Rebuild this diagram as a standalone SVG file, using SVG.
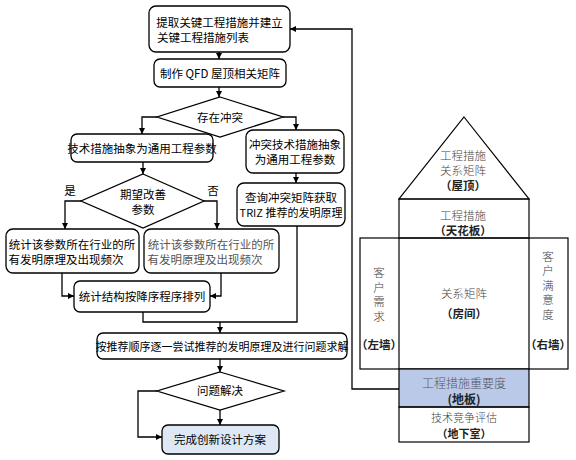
<svg xmlns="http://www.w3.org/2000/svg" width="576" height="460" viewBox="0 0 576 460">
<defs>
<marker id="ah" viewBox="0 0 10 10" refX="10" refY="5" markerWidth="6" markerHeight="6" markerUnits="userSpaceOnUse" orient="auto">
<path d="M0,0 L10,5 L0,10 z" fill="#000"/>
</marker>
</defs>
<style>
.box{fill:#fff;stroke:#000;stroke-width:1.3}
.dia{fill:#fff;stroke:#000;stroke-width:1.3}
.t{font-family:"Noto Sans CJK SC","Noto Sans",sans-serif;font-size:11.5px;fill:#000;text-anchor:middle;dominant-baseline:central}
.g{fill:#555}
.h{font-family:"Noto Sans CJK SC","Noto Sans",sans-serif;font-size:11.5px;fill:#444;text-anchor:middle;dominant-baseline:central;font-weight:300}
.hb{font-weight:600;fill:#222}
.v{writing-mode:vertical-rl;letter-spacing:3px}
.c{fill:none;stroke:#000;stroke-width:1.3}
.hl{fill:none;stroke:#000;stroke-width:1.2}
</style>
<rect width="576" height="460" fill="#fff"/>

<g id="connectors">
<path class="c" d="M219,52 V59" marker-end="url(#ah)"/>
<path class="c" d="M219,87 V97" marker-end="url(#ah)"/>
<path class="c" d="M157,117 H142 V134" marker-end="url(#ah)"/>
<path class="c" d="M283,117 H296 V130" marker-end="url(#ah)"/>
<path class="c" d="M143,162 V174" marker-end="url(#ah)"/>
<path class="c" d="M296,173 V183" marker-end="url(#ah)"/>
<path class="c" d="M81,201 H65 V229" marker-end="url(#ah)"/>
<path class="c" d="M204,201 H217 V229" marker-end="url(#ah)"/>
<path class="c" d="M62,273 V296 H74" marker-end="url(#ah)"/>
<path class="c" d="M221,273 V296 H210" marker-end="url(#ah)"/>
<path class="c" d="M297,226 V322 H143 V312"/>
<path class="c" d="M220,322 V333" marker-end="url(#ah)"/>
<path class="c" d="M220,359 V372" marker-end="url(#ah)"/>
<path class="c" d="M220,410 V425" marker-end="url(#ah)"/>
<path class="c" d="M157,391 H138 V437 H162" marker-end="url(#ah)"/>
<path class="c" d="M399,389 H352 V29 H290" marker-end="url(#ah)"/>
</g>

<g id="n1"><rect class="box" x="149" y="6" width="141" height="46" rx="7"/>
<text class="t" x="219.5" y="22">提取关键工程措施并建立</text><text class="t" x="203" y="37">关键工程措施列表</text></g>
<g id="n2"><rect class="box" x="154" y="59" width="132" height="28" rx="6"/>
<text class="t" x="220" y="73">制作 QFD 屋顶相关矩阵</text></g>
<g id="d1"><polygon class="dia" points="220,97 283,117 220,137 157,117"/>
<text class="t" x="220" y="117">存在冲突</text></g>
<g id="n3"><rect class="box" x="71" y="134" width="142" height="28" rx="6"/>
<text class="t" x="142" y="148">技术措施抽象为通用工程参数</text></g>
<g id="n4"><rect class="box" x="246" y="130" width="98" height="43" rx="7"/>
<text class="t" x="295" y="144">冲突技术措施抽象</text><text class="t" x="295" y="159">为通用工程参数</text></g>
<g id="d2"><polygon class="dia" points="143,174 204,201 143,228 81,201"/>
<text class="t" x="143" y="194">期望改善</text><text class="t" x="143" y="209">参数</text></g>
<text class="t" x="70" y="190">是</text>
<text class="t" x="213" y="190">否</text>
<g id="n5"><rect class="box" x="237" y="183" width="108" height="43" rx="7"/>
<text class="t" x="291" y="197">查询冲突矩阵获取</text><text class="t" x="291" y="212" style="font-size:11px">TRIZ 推荐的发明原理</text></g>
<g id="n6"><rect class="box" x="6" y="229" width="133" height="44" rx="7"/>
<text class="t" x="72" y="244">统计该参数所在行业的所</text><text class="t" x="66" y="259">有发明原理及出现频次</text></g>
<g id="n7"><rect class="box" x="144" y="229" width="135" height="44" rx="7"/>
<text class="t g" x="211" y="244">统计该参数所在行业的所</text><text class="t g" x="205" y="259">有发明原理及出现频次</text></g>
<g id="n8"><rect class="box" x="74" y="281" width="136" height="31" rx="6"/>
<text class="t" x="142" y="296">统计结构按降序程序排列</text></g>
<g id="n9"><rect class="box" x="97" y="333" width="250" height="26" rx="6"/>
<text class="t" x="222" y="346" style="font-size:11px">按推荐顺序逐一尝试推荐的发明原理及进行问题求解</text></g>
<g id="d3"><polygon class="dia" points="220,372 284,391 220,410 157,391"/>
<text class="t" x="220" y="390">问题解决</text></g>
<g id="n10"><rect x="162" y="425" width="117" height="29" rx="6" fill="#dde8f4" stroke="#000" stroke-width="1.3"/>
<text class="t" x="220" y="439">完成创新设计方案</text></g>

<g id="house">
<polygon class="hl" points="464,117 529,199 399,199" fill="#fff"/>
<rect class="hl" x="399" y="199" width="130" height="39"/>
<rect class="hl" x="360" y="238" width="208" height="131"/>
<line class="hl" x1="399" y1="238" x2="399" y2="369"/>
<line class="hl" x1="529" y1="238" x2="529" y2="369"/>
<rect x="399" y="369" width="130" height="38" fill="#b9c9e7" stroke="#000" stroke-width="1.2"/>
<rect class="hl" x="399" y="407" width="130" height="35"/>
<text class="h" x="463" y="155">工程措施</text>
<text class="h" x="463" y="170">关系矩阵</text>
<text class="h hb" x="463" y="185">（屋顶）</text>
<text class="h" x="463" y="215">工程措施</text>
<text class="h hb" x="463" y="230">（天花板）</text>
<text class="h v" x="379" y="296">客户需求</text>
<text class="h hb" x="379" y="344">（左墙）</text>
<text class="h v" x="548" y="287">客户满意度</text>
<text class="h hb" x="548" y="344">（右墙）</text>
<text class="h" x="464" y="293">关系矩阵</text>
<text class="h hb" x="464" y="313">（房间）</text>
<text class="h" x="464" y="382" style="font-size:12px;fill:#556">工程措施重要度</text>
<text class="h hb" x="464" y="398" style="font-size:12px">(地板)</text>
<text class="h" x="464" y="416.5" style="font-size:11px">技术竞争评估</text>
<text class="h hb" x="464" y="432.5" style="font-size:11px">（地下室）</text>
</g>
</svg>
